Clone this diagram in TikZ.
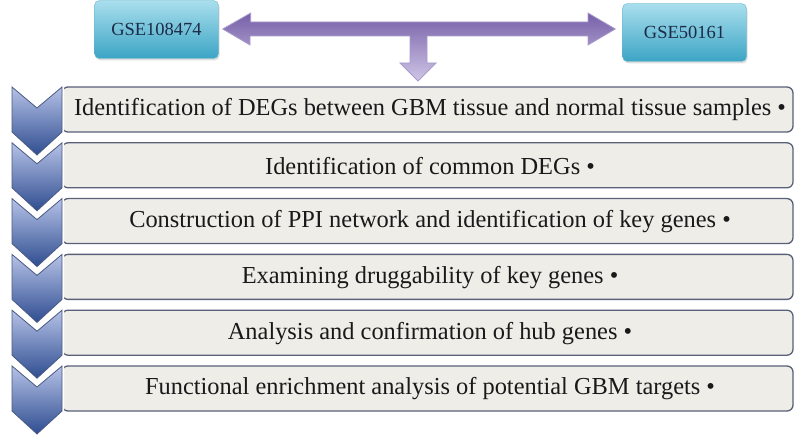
\documentclass[tikz,border=0pt]{standalone}
\usepackage{fontspec}
\setmainfont{Liberation Serif}
\usetikzlibrary{shadows}

\definecolor{gsetop}{HTML}{A9DFEE}
\definecolor{gsebot}{HTML}{3CA4C4}
\definecolor{gseline}{HTML}{62B4CB}
\definecolor{gsetext}{HTML}{1C2B47}
\definecolor{arrtop}{HTML}{7660A8}
\definecolor{arrbot}{HTML}{CFC5E6}
\definecolor{arrline}{HTML}{A99BCB}
\definecolor{boxfill}{HTML}{EFEDE8}
\definecolor{boxline}{HTML}{596079}
\definecolor{chevtop}{HTML}{B6C2E7}
\definecolor{chevbot}{HTML}{2E4D90}
\definecolor{chevline}{HTML}{4A5A82}

\begin{document}
\begin{tikzpicture}[
  x=1pt, y=-1pt,
  gse/.style={draw=gseline, rounded corners=5pt, top color=gsetop, bottom color=gsebot,
    minimum width=124pt, minimum height=58pt, text=gsetext,
    font=\fontsize{18.5}{20}\selectfont,
    drop shadow={opacity=0.25, shadow xshift=1pt, shadow yshift=-2pt}},
  stepbox/.style={draw=boxline, line width=1.3pt, fill=boxfill, rounded corners=6pt,
    minimum width=731pt, minimum height=45pt, inner sep=0pt},
  steptext/.style={font=\fontsize{24.4}{27}\selectfont, text=black!90, inner sep=0pt},
  chev/.style={draw=chevline, line width=0.8pt, top color=chevtop, bottom color=chevbot}
]
\useasboundingbox (0,0) rectangle (800,443);

% the two data sets
\node[gse] (gseA) at (156.5,29.5) {GSE108474};
\node[gse] (gseB) at (684.5,32.5) {GSE50161};

% double arrow with the branch down to the steps
\coordinate (tipL) at ([xshift=4pt]gseA.east |- 0,29);
\coordinate (tipR) at ([xshift=-7pt]gseB.west |- 0,29);
\path[draw=arrline, line width=0.8pt, top color=arrtop, bottom color=arrbot]
  (tipL) -- ++(28,-16) -- ++(0,9) -- (588,22) -- ++(0,-9) -- (tipR)
  -- (588,45) -- ++(0,-9) -- (427,36) -- (427,63) -- (436,63) -- (418,81)
  -- (400,63) -- (410,63) -- (410,36) -- (250,36) -- (250,45) -- cycle;
\coordinate (down) at (418,81);

% the six steps
\foreach \i/\txt in {
  1/Identification of DEGs between GBM tissue and normal tissue samples •,
  2/Identification of common DEGs •,
  3/Construction of PPI network and identification of key genes •,
  4/Examining druggability of key genes •,
  5/Analysis and confirmation of hub genes •,
  6/Functional enrichment analysis of potential GBM targets •}{
  \pgfmathsetmacro\yt{87+55.8*(\i-1)}
  \node[stepbox] (row\i) at (427.5,\yt+22.5) {};
  \node[steptext] (txt\i) at (430,\yt+23) {\txt};
}
\foreach \i in {1,...,6}{
  \pgfmathsetmacro\yt{87+55.8*(\i-1)}
  \draw[white, line width=4pt, line join=round]
    (12,\yt) -- (37,\yt+21) -- (62,\yt) -- (62,\yt+45) -- (37,\yt+68) -- (12,\yt+45) -- cycle;
  \path[chev] (12,\yt) -- (37,\yt+21) -- (62,\yt) -- (62,\yt+45) -- (37,\yt+68) -- (12,\yt+45) -- cycle;
}
\end{tikzpicture}
\end{document}
